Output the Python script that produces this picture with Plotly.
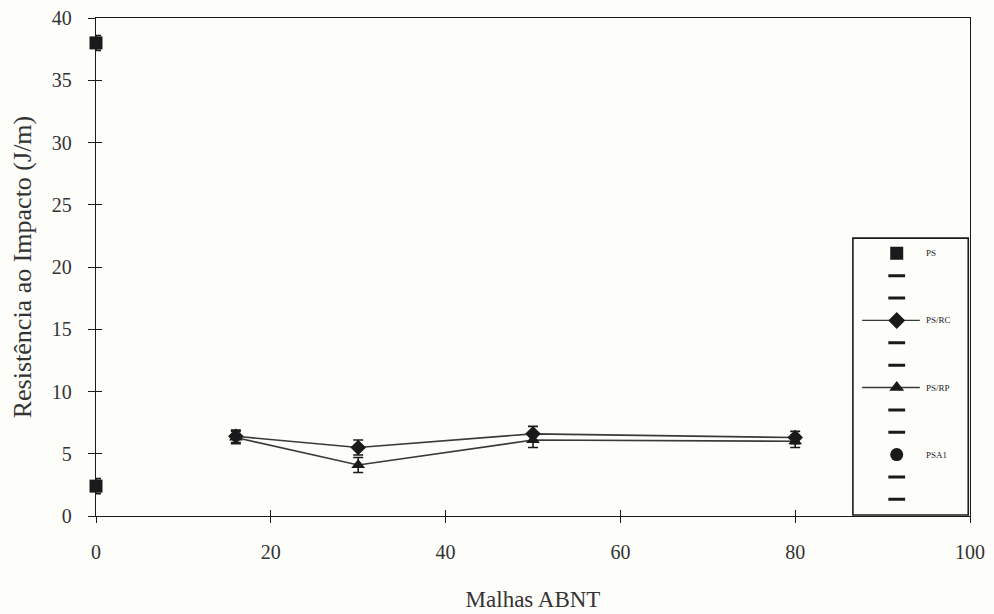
import plotly.graph_objects as go

# Impact resistance (J/m) versus ABNT mesh size
mesh = [16, 30, 50, 80]
ps_rc = [6.4, 5.5, 6.6, 6.3]
ps_rc_err = [0.5, 0.6, 0.6, 0.5]
ps_rp = [6.3, 4.1, 6.1, 6.0]
ps_rp_err = [0.5, 0.6, 0.6, 0.5]

ps_x = [0, 0]
ps_y = [38.0, 2.4]
ps_err = [0.6, 0.6]

x_ticks = [0, 20, 40, 60, 80, 100]
y_ticks = [0, 5, 10, 15, 20, 25, 30, 35, 40]

legend_names = ["PS", "PS/RC", "PS/RP", "PSA1"]

SERIF = "Liberation Serif, Times New Roman, serif"
INK = "#1a1a1a"
LINE = "#3a3a3a"
TEXT = "#333333"

fig = go.Figure()

err_style = dict(type="data", thickness=1.6, width=5, color=INK)

fig.add_trace(go.Scatter(
    x=mesh, y=ps_rc, mode="lines+markers", name="PS/RC",
    line=dict(color=LINE, width=1.6),
    marker=dict(symbol="diamond", size=12, color=INK),
    error_y=dict(array=ps_rc_err, **err_style),
    cliponaxis=False, showlegend=False,
))
fig.add_trace(go.Scatter(
    x=mesh, y=ps_rp, mode="lines+markers", name="PS/RP",
    line=dict(color=LINE, width=1.6),
    marker=dict(symbol="triangle-up", size=12, color=INK),
    error_y=dict(array=ps_rp_err, **err_style),
    cliponaxis=False, showlegend=False,
))
fig.add_trace(go.Scatter(
    x=ps_x, y=ps_y, mode="markers", name="PS",
    marker=dict(symbol="square", size=13, color=INK),
    error_y=dict(array=ps_err, **err_style),
    cliponaxis=False, showlegend=False,
))

# Hand-built legend box: each series row is followed by two dash rows
legend_symbols = {"PS": "square", "PS/RC": "diamond", "PS/RP": "triangle-up", "PSA1": "circle"}
rows_per_entry = 3
for i, name in enumerate(legend_names):
    row = i * rows_per_entry
    has_line = name in ("PS/RC", "PS/RP")
    if has_line:
        fig.add_trace(go.Scatter(
            x=[0.08, 0.58], y=[row, row], mode="lines",
            line=dict(color=LINE, width=1.3),
            xaxis="x2", yaxis="y2", showlegend=False, hoverinfo="skip",
        ))
    fig.add_trace(go.Scatter(
        x=[0.38], y=[row], mode="markers",
        marker=dict(symbol=legend_symbols[name], size=13, color=INK),
        xaxis="x2", yaxis="y2", showlegend=False, hoverinfo="skip",
    ))
    fig.add_trace(go.Scatter(
        x=[0.38, 0.38], y=[row + 1, row + 2], mode="markers",
        marker=dict(symbol="line-ew", size=12, line=dict(color=INK, width=3)),
        xaxis="x2", yaxis="y2", showlegend=False, hoverinfo="skip",
    ))
    fig.add_annotation(
        x=0.62, y=row, xref="x2", yref="y2", text=name, showarrow=False,
        xanchor="left", yanchor="middle",
        font=dict(family=SERIF, size=9, color=INK),
    )

# invisible trace so the crossing-tick overlay axes are drawn
fig.add_trace(go.Scatter(x=[None], y=[None], xaxis="x3", yaxis="y3",
                         showlegend=False, hoverinfo="skip"))

fig.add_shape(type="rect", xref="paper", yref="paper",
              x0=0.866, x1=0.998, y0=0.002, y1=0.558,
              line=dict(color=INK, width=1.6), fillcolor="rgba(0,0,0,0)")

axis_common = dict(showgrid=False, zeroline=False, linecolor=INK, linewidth=1.4,
                   tickcolor=INK, tickwidth=1.2, automargin=False)

fig.update_layout(
    width=994, height=614,
    margin=dict(l=96, r=24, t=18, b=98),
    paper_bgcolor="#fdfdfa", plot_bgcolor="#fdfdfa",
    showlegend=False,
    xaxis=dict(
        range=[0, 100], tickvals=x_ticks, ticks="outside", ticklen=6,
        mirror=True, showline=True, ticklabelstandoff=12,
        tickfont=dict(family=SERIF, size=20, color=TEXT),
        title=dict(text="Malhas ABNT", font=dict(family=SERIF, size=23, color=TEXT),
                   standoff=28),
        **axis_common,
    ),
    yaxis=dict(
        range=[0, 40], tickvals=y_ticks, ticks="outside", ticklen=7,
        mirror=True, showline=True, ticklabelstandoff=12,
        tickfont=dict(family=SERIF, size=20, color=TEXT),
        title=dict(text="Resistência ao Impacto (J/m)",
                   font=dict(family=SERIF, size=26, color=TEXT), standoff=12),
        **axis_common,
    ),
    xaxis3=dict(range=[0, 100], tickvals=x_ticks, ticks="inside", ticklen=6,
                overlaying="x", showticklabels=False, showline=False,
                showgrid=False, zeroline=False, tickcolor=INK, tickwidth=1.2),
    yaxis3=dict(range=[0, 40], tickvals=y_ticks, ticks="inside", ticklen=6,
                overlaying="y", showticklabels=False, showline=False,
                showgrid=False, zeroline=False, tickcolor=INK, tickwidth=1.2),
    xaxis2=dict(domain=[0.866, 0.998], range=[0, 1], visible=False, fixedrange=True),
    yaxis2=dict(domain=[0.002, 0.558], range=[11.7, -0.68], visible=False,
                anchor="x2", fixedrange=True),
)

fig.write_html("out.html")
